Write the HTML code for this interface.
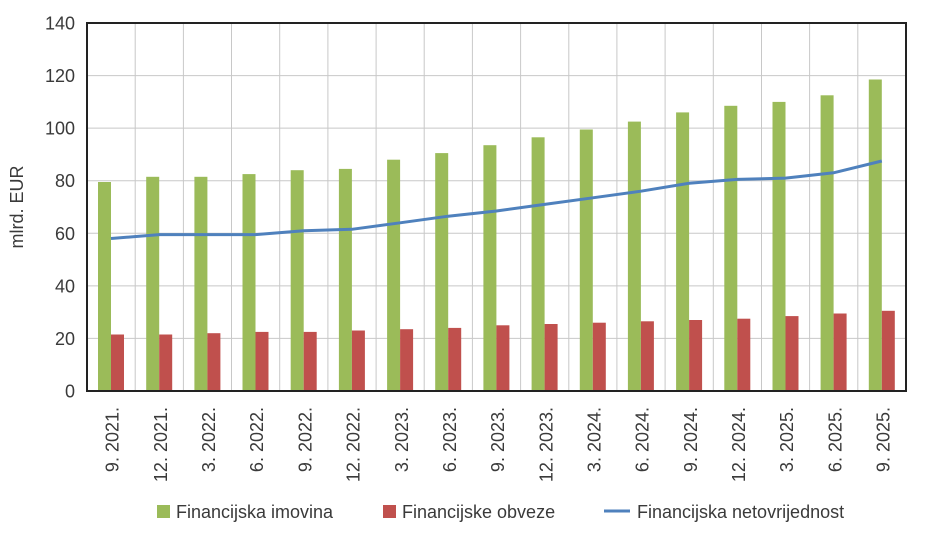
<!DOCTYPE html><html><head><style>body{margin:0;background:#fff}svg{font-family:"Liberation Sans",sans-serif;display:block}</style></head><body>
<svg width="935" height="535" xmlns="http://www.w3.org/2000/svg">
<g stroke="#c8c8c8">
<line x1="87" x2="906" y1="338.4" y2="338.4"/><line x1="87" x2="906" y1="285.9" y2="285.9"/><line x1="87" x2="906" y1="233.3" y2="233.3"/><line x1="87" x2="906" y1="180.7" y2="180.7"/><line x1="87" x2="906" y1="128.1" y2="128.1"/><line x1="87" x2="906" y1="75.6" y2="75.6"/>
<line x1="135.2" x2="135.2" y1="23" y2="391"/><line x1="183.4" x2="183.4" y1="23" y2="391"/><line x1="231.5" x2="231.5" y1="23" y2="391"/><line x1="279.7" x2="279.7" y1="23" y2="391"/><line x1="327.9" x2="327.9" y1="23" y2="391"/><line x1="376.1" x2="376.1" y1="23" y2="391"/><line x1="424.2" x2="424.2" y1="23" y2="391"/><line x1="472.4" x2="472.4" y1="23" y2="391"/><line x1="520.6" x2="520.6" y1="23" y2="391"/><line x1="568.8" x2="568.8" y1="23" y2="391"/><line x1="616.9" x2="616.9" y1="23" y2="391"/><line x1="665.1" x2="665.1" y1="23" y2="391"/><line x1="713.3" x2="713.3" y1="23" y2="391"/><line x1="761.5" x2="761.5" y1="23" y2="391"/><line x1="809.6" x2="809.6" y1="23" y2="391"/><line x1="857.8" x2="857.8" y1="23" y2="391"/>
</g>
<g font-size="18" text-anchor="end" fill="#3a3a3a">
<text x="75" y="397.5">0</text><text x="75" y="344.9">20</text><text x="75" y="292.4">40</text><text x="75" y="239.8">60</text><text x="75" y="187.2">80</text><text x="75" y="134.6">100</text><text x="75" y="82.1">120</text><text x="75" y="29.5">140</text>
</g>
<g fill="#9bbb59">
<rect x="98" y="182" width="13" height="209"/><rect x="146.2" y="176.8" width="13" height="214.2"/><rect x="194.4" y="176.8" width="13" height="214.2"/><rect x="242.5" y="174.1" width="13" height="216.9"/><rect x="290.7" y="170.2" width="13" height="220.8"/><rect x="338.9" y="168.9" width="13" height="222.1"/><rect x="387.1" y="159.7" width="13" height="231.3"/><rect x="435.2" y="153.1" width="13" height="237.9"/><rect x="483.4" y="145.2" width="13" height="245.8"/><rect x="531.6" y="137.3" width="13" height="253.7"/><rect x="579.8" y="129.5" width="13" height="261.5"/><rect x="627.9" y="121.6" width="13" height="269.4"/><rect x="676.1" y="112.4" width="13" height="278.6"/><rect x="724.3" y="105.8" width="13" height="285.2"/><rect x="772.5" y="101.9" width="13" height="289.1"/><rect x="820.6" y="95.3" width="13" height="295.7"/><rect x="868.8" y="79.5" width="13" height="311.5"/>
</g>
<g fill="#c0504d">
<rect x="111" y="334.5" width="13" height="56.5"/><rect x="159.2" y="334.5" width="13" height="56.5"/><rect x="207.4" y="333.2" width="13" height="57.8"/><rect x="255.5" y="331.9" width="13" height="59.1"/><rect x="303.7" y="331.9" width="13" height="59.1"/><rect x="351.9" y="330.5" width="13" height="60.5"/><rect x="400.1" y="329.2" width="13" height="61.8"/><rect x="448.2" y="327.9" width="13" height="63.1"/><rect x="496.4" y="325.3" width="13" height="65.7"/><rect x="544.6" y="324" width="13" height="67"/><rect x="592.8" y="322.7" width="13" height="68.3"/><rect x="640.9" y="321.3" width="13" height="69.7"/><rect x="689.1" y="320" width="13" height="71"/><rect x="737.3" y="318.7" width="13" height="72.3"/><rect x="785.5" y="316.1" width="13" height="74.9"/><rect x="833.6" y="313.5" width="13" height="77.5"/><rect x="881.8" y="310.8" width="13" height="80.2"/>
</g>
<polyline fill="none" stroke="#4f81bd" stroke-width="3" points="111,238.5 159.2,234.6 207.4,234.6 255.5,234.6 303.7,230.7 351.9,229.3 400.1,222.8 448.2,216.2 496.4,211 544.6,204.4 592.8,197.8 640.9,191.2 689.1,183.3 737.3,179.4 785.5,178.1 833.6,172.8 881.8,161"/>
<rect x="87" y="23" width="819" height="368" fill="none" stroke="#222" stroke-width="2"/>
<g font-size="18" text-anchor="end" fill="#3a3a3a">
<text transform="translate(118.7,407) rotate(-90)">9. 2021.</text>
<text transform="translate(166.9,407) rotate(-90)">12. 2021.</text>
<text transform="translate(215.1,407) rotate(-90)">3. 2022.</text>
<text transform="translate(263.2,407) rotate(-90)">6. 2022.</text>
<text transform="translate(311.4,407) rotate(-90)">9. 2022.</text>
<text transform="translate(359.6,407) rotate(-90)">12. 2022.</text>
<text transform="translate(407.8,407) rotate(-90)">3. 2023.</text>
<text transform="translate(455.9,407) rotate(-90)">6. 2023.</text>
<text transform="translate(504.1,407) rotate(-90)">9. 2023.</text>
<text transform="translate(552.3,407) rotate(-90)">12. 2023.</text>
<text transform="translate(600.5,407) rotate(-90)">3. 2024.</text>
<text transform="translate(648.6,407) rotate(-90)">6. 2024.</text>
<text transform="translate(696.8,407) rotate(-90)">9. 2024.</text>
<text transform="translate(745,407) rotate(-90)">12. 2024.</text>
<text transform="translate(793.2,407) rotate(-90)">3. 2025.</text>
<text transform="translate(841.3,407) rotate(-90)">6. 2025.</text>
<text transform="translate(889.5,407) rotate(-90)">9. 2025.</text>
</g>
<text transform="translate(23,207) rotate(-90)" font-size="18" text-anchor="middle" fill="#3a3a3a">mlrd. EUR</text>
<rect x="157" y="505" width="13" height="13" fill="#9bbb59"/><text x="176" y="518" font-size="18" fill="#3a3a3a">Financijska imovina</text>
<rect x="383" y="505" width="13" height="13" fill="#c0504d"/><text x="402" y="518" font-size="18" fill="#3a3a3a">Financijske obveze</text>
<line x1="604" x2="630" y1="511" y2="511" stroke="#4f81bd" stroke-width="3"/><text x="637" y="518" font-size="18" fill="#3a3a3a">Financijska netovrijednost</text>
</svg></body></html>
